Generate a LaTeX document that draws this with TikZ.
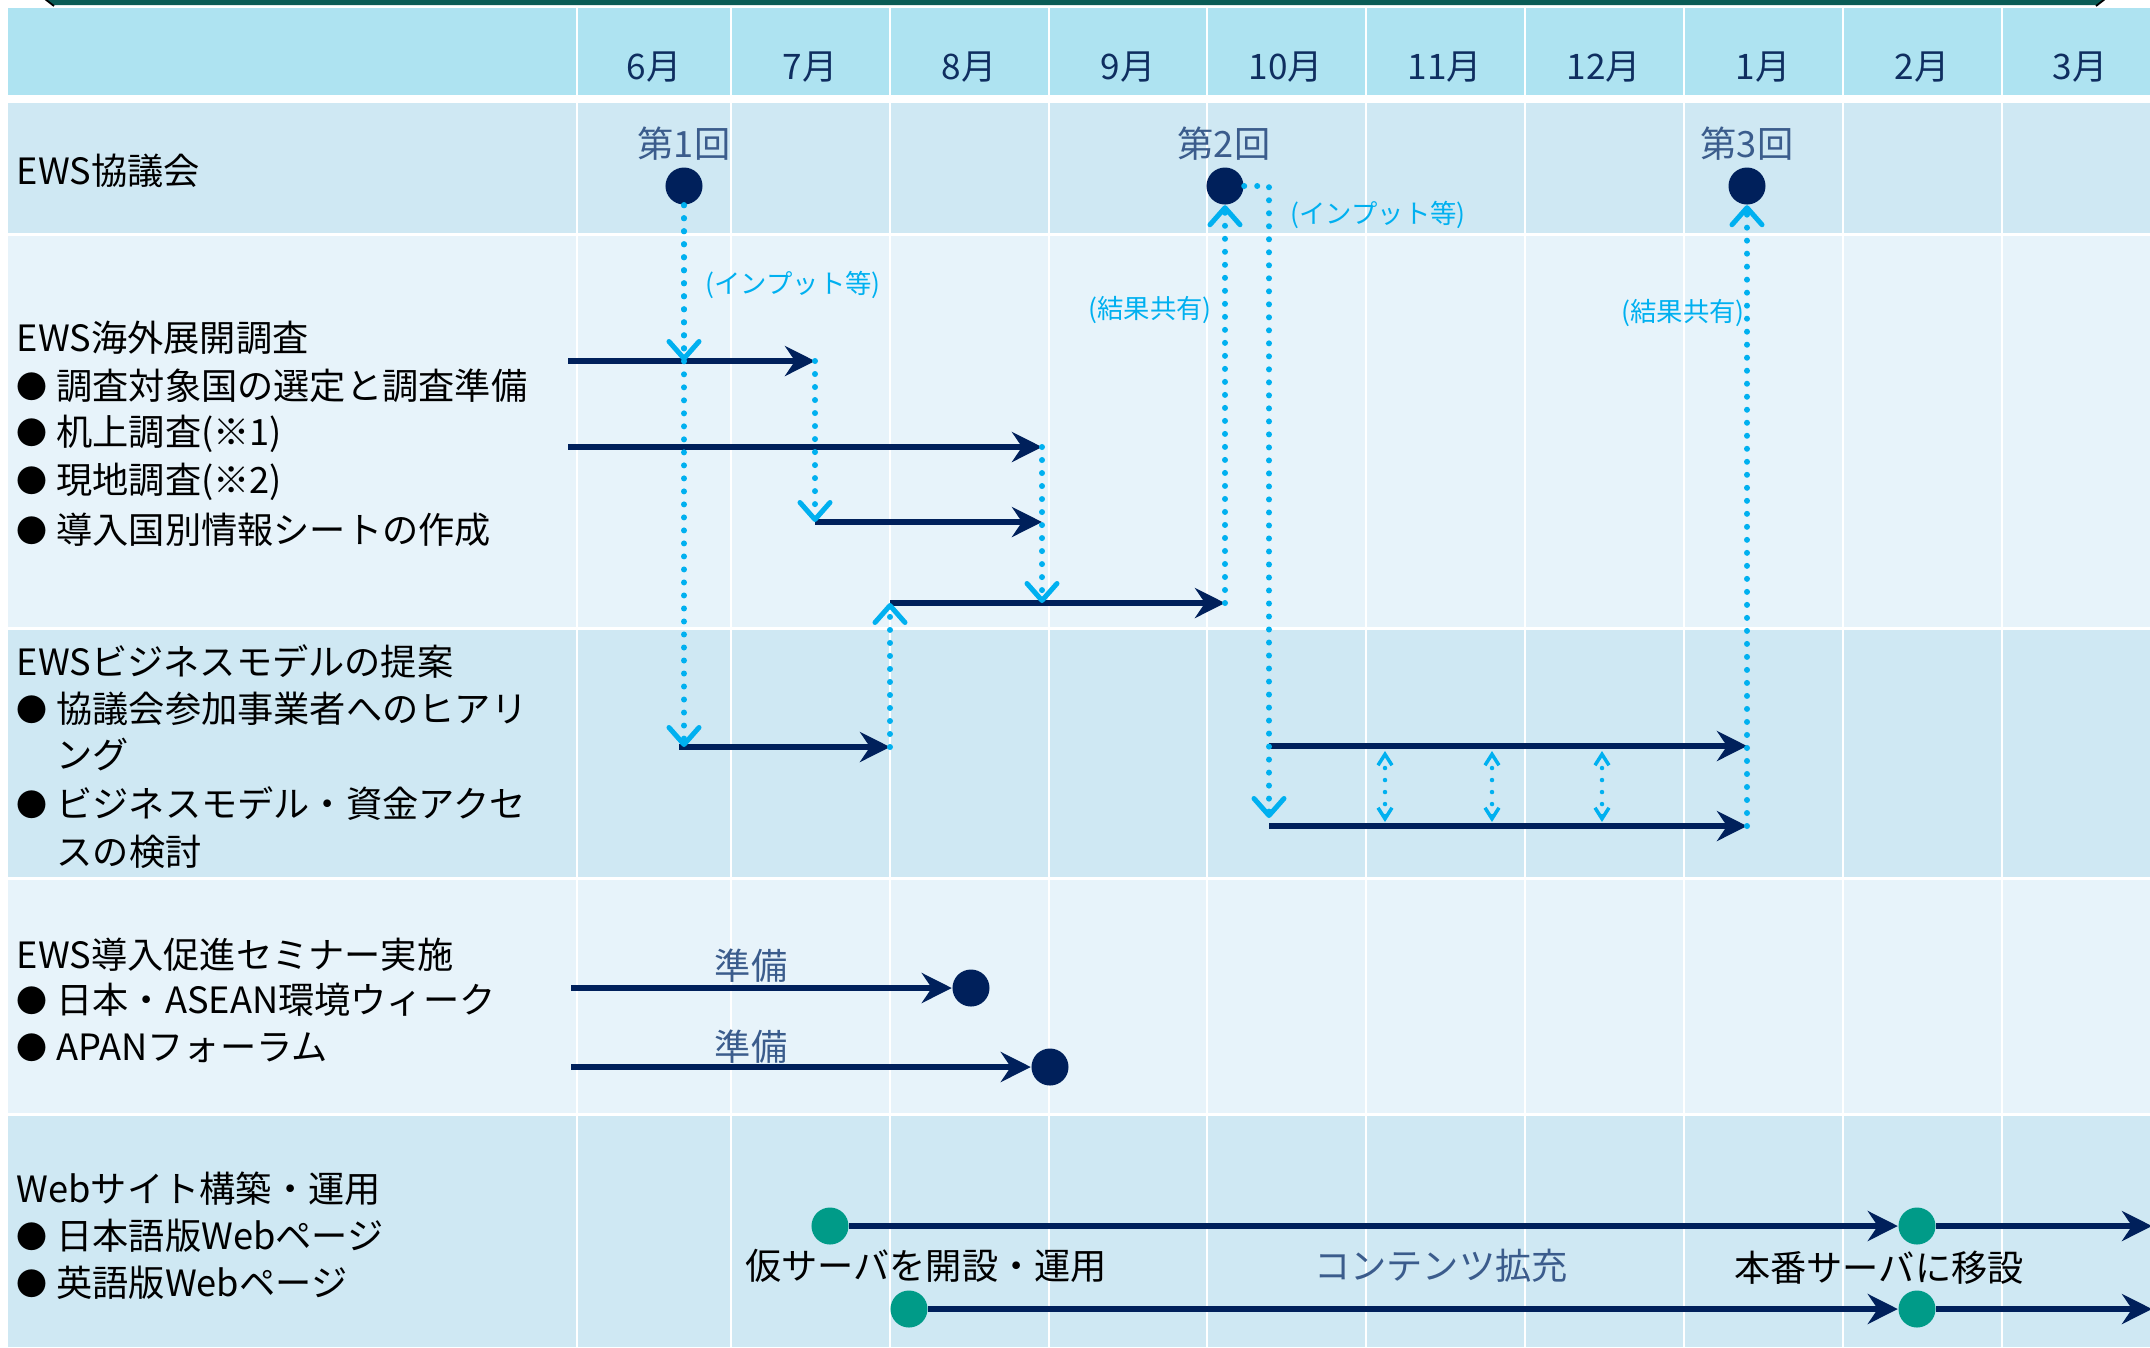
\documentclass[tikz,border=0pt]{standalone}
\usepackage{fontspec}
\newfontfamily\jp{Noto Sans CJK JP}
\usetikzlibrary{arrows.meta}
\definecolor{hdr}{HTML}{AEE3F1}
\definecolor{rowA}{HTML}{CFE8F3}
\definecolor{rowB}{HTML}{E7F3FA}
\definecolor{navy}{HTML}{00205B}
\definecolor{cyanc}{HTML}{00B0F0}
\definecolor{tealc}{HTML}{009B88}
\definecolor{topbar}{HTML}{0A5C55}
\definecolor{monthc}{HTML}{0F2E60}
\definecolor{slate}{HTML}{3B5C8C}
\newcommand{\bul}{\raisebox{0.4pt}{\fontsize{8.8}{10}\selectfont●}\hspace{2.5pt}}
\begin{document}
\begin{tikzpicture}[x=0.01cm,y=-0.01cm,
  lbl/.style={font=\jp\fontsize{10.3}{12}\selectfont, anchor=west, inner sep=0pt, text=black},
  month/.style={font=\jp\fontsize{10}{12}\selectfont, inner sep=0pt, text=monthc},
  slatelbl/.style={font=\jp\fontsize{10.3}{12}\selectfont, inner sep=0pt, text=slate},
  blacklbl/.style={font=\jp\fontsize{10.3}{12}\selectfont, inner sep=0pt, text=black},
  note/.style={font=\jp\fontsize{7.5}{9}\selectfont, inner sep=0pt, text=cyanc},
  navydot/.style={circle, fill=navy, minimum size=0.37cm, inner sep=0pt},
  tealdot/.style={circle, fill=tealc, minimum size=0.37cm, inner sep=0pt},
  bar/.style={draw=navy, line width=0.065cm, >={Stealth[length=0.3cm,width=0.3cm,inset=0.1cm]}, ->},
  dotline/.style={draw=cyanc, line width=0.06cm, line cap=round, dash pattern=on 0pt off 0.13cm,
     >={Straight Barb[length=0.17cm,width=0.3cm,line width=0.05cm,round]}, ->},
  smalldot/.style={draw=cyanc, line width=0.045cm, line cap=round, dash pattern=on 0pt off 0.12cm,
     >={Straight Barb[length=0.11cm,width=0.14cm,line width=0.035cm]}, <->},
  colline/.style={draw=white, line width=0.025cm}
]
\useasboundingbox (0,0) rectangle (2150,1347);
\fill[white] (0,0) rectangle (2150,1347);
% top bar
\fill[topbar] (47,0) -- (2103,0) -- (2097,5) -- (53,5) -- cycle;
\draw[black, line width=0.018cm] (45,-1) -- (54,6);
\draw[black, line width=0.018cm] (2105,-1) -- (2096,6);
% rows
\fill[hdr] (8,8) rectangle (2150,95);
\fill[rowA] (8,103) rectangle (2150,233);
\fill[rowB] (8,236) rectangle (2150,627);
\fill[rowA] (8,630) rectangle (2150,877);
\fill[rowB] (8,880) rectangle (2150,1113);
\fill[rowA] (8,1116) rectangle (2150,1347);
% column lines
\foreach \cx in {577,731,890,1049,1207,1366,1525,1684,1843,2002}
  \draw[colline] (\cx,8) -- (\cx,1347);
% months
\node[month] (m6) at (654,67) {6月};
\node[month] (m7) at (810,67) {7月};
\node[month] (m8) at (969,67) {8月};
\node[month] (m9) at (1128,67) {9月};
\node[month] (m10) at (1286,67) {10月};
\node[month] (m11) at (1445,67) {11月};
\node[month] (m12) at (1604,67) {12月};
\node[month] (m1) at (1763,67) {1月};
\node[month] (m2) at (1922,67) {2月};
\node[month] (m3) at (2080,67) {3月};
% left labels
\node[lbl] (l1) at (16,171) {EWS協議会};
\node[lbl] (l2) at (16,338) {EWS海外展開調査};
\node[lbl] (l2a) at (16,386) {\bul 調査対象国の選定と調査準備};
\node[lbl] (l2b) at (16,434) {\bul 机上調査(※1)};
\node[lbl] (l2c) at (16,482) {\bul 現地調査(※2)};
\node[lbl] (l2d) at (16,530) {\bul 導入国別情報シートの作成};
\node[lbl] (l3) at (16,662) {EWSビジネスモデルの提案};
\node[lbl] (l3a) at (16,709) {\bul 協議会参加事業者へのヒアリ};
\node[lbl] (l3b) at (56,755) {ング};
\node[lbl] (l3c) at (16,804) {\bul ビジネスモデル・資金アクセ};
\node[lbl] (l3d) at (56,852) {スの検討};
\node[lbl] (l4) at (16,955) {EWS導入促進セミナー実施};
\node[lbl] (l4a) at (16,1000) {\bul 日本・ASEAN環境ウィーク};
\node[lbl] (l4b) at (16,1048) {\bul APANフォーラム};
\node[lbl] (l5) at (16,1189) {Webサイト構築・運用};
\node[lbl] (l5a) at (16,1236) {\bul 日本語版Webページ};
\node[lbl] (l5b) at (16,1283) {\bul 英語版Webページ};
% meetings
\node[slatelbl] (k1) at (684,144) {第1回};
\node[slatelbl] (k2) at (1224,144) {第2回};
\node[slatelbl] (k3) at (1747,144) {第3回};
\node[navydot] (c1) at (684,186) {};
\node[navydot] (c2) at (1225,186) {};
\node[navydot] (c3) at (1747,186) {};
% notes
\node[note] (n1) at (1378,215) {(インプット等)};
\node[note] (n2) at (793,285) {(インプット等)};
\node[note] (n3) at (1150,310) {(結果共有)};
\node[note] (n4) at (1683,313) {(結果共有)};
% bar coordinates
\coordinate (a1s) at (568,361); \coordinate (a1e) at (815,361);
\coordinate (a2s) at (568,447); \coordinate (a2e) at (1042,447);
\coordinate (a3s) at (815,522); \coordinate (a3e) at (1042,522);
\coordinate (a4s) at (890,603); \coordinate (a4e) at (1225,603);
\coordinate (a5s) at (679,747); \coordinate (a5e) at (890,747);
\coordinate (a6s) at (1269,746); \coordinate (a6e) at (1747,746);
\coordinate (a7s) at (1269,826); \coordinate (a7e) at (1747,826);
\coordinate (a7in) at (1269,818);
\coordinate (a8s) at (571,988);
\coordinate (a9s) at (571,1067);
\node[navydot] (d1) at (971,988) {};
\node[navydot] (d2) at (1050,1067) {};
\node[tealdot] (t1) at (830,1226) {};
\node[tealdot] (t2) at (1917,1226) {};
\node[tealdot] (t3) at (909,1309) {};
\node[tealdot] (t4) at (1917,1309) {};
\coordinate (e1) at (2152,1226);
\coordinate (e2) at (2152,1309);
% bars
\draw[bar] (a1s) -- (a1e);
\draw[bar] (a2s) -- (a2e);
\draw[bar] (a3s) -- (a3e);
\draw[bar] (a4s) -- (a4e);
\draw[bar] (a5s) -- (a5e);
\draw[bar] (a6s) -- (a6e);
\draw[bar] (a7s) -- (a7e);
\draw[bar] (a8s) -- (d1.west);
\draw[bar] (a9s) -- (d2.west);
\draw[bar] (t1.east) -- (t2.west);
\draw[bar] (t2.east) -- (e1);
\draw[bar] (t3.east) -- (t4.west);
\draw[bar] (t4.east) -- (e2);
% texts row 4/5
\node[slatelbl] (p1) at (751,966) {準備};
\node[slatelbl] (p2) at (751,1047) {準備};
\node[blacklbl] (w1) at (926,1266) {仮サーバを開設・運用};
\node[slatelbl] (w2) at (1441,1266) {コンテンツ拡充};
\node[blacklbl] (w3) at (1879,1268) {本番サーバに移設};
% dotted connectors
\draw[dotline] (c1.south) -- (c1.south |- a1s);
\draw[dotline] (c1.south) -- (c1.south |- a5s);
\draw[dotline] (a1e) -- (a3s);
\draw[dotline] (a2e) -- (a2e |- a4s);
\draw[dotline] (a5e) -- (a4s);
\draw[dotline] (a4e) -- (c2.south);
\draw[dotline] (c2.east) -| (a7in);
\draw[dotline] (a7e) -- (c3.south);
% small exchanges
\coordinate (x1t) at (1385,751); \coordinate (x1b) at (1385,822);
\coordinate (x2t) at (1492,751); \coordinate (x2b) at (1492,822);
\coordinate (x3t) at (1602,751); \coordinate (x3b) at (1602,822);
\draw[smalldot] (x1t) -- (x1b);
\draw[smalldot] (x2t) -- (x2b);
\draw[smalldot] (x3t) -- (x3b);
\end{tikzpicture}
\end{document}
